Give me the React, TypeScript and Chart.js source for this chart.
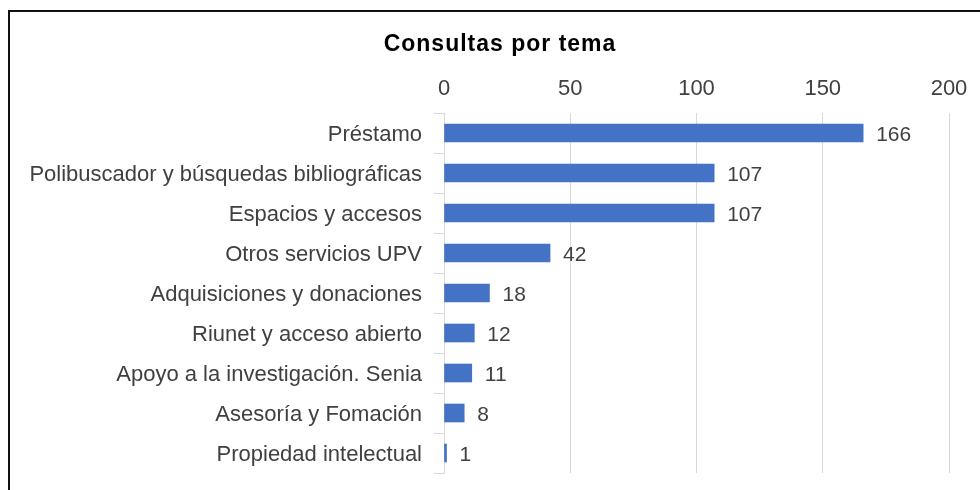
import React, { useEffect, useRef } from "react";
import { Chart, registerables } from "chart.js";

Chart.register(...registerables);

const categories = [
  "Préstamo",
  "Polibuscador y búsquedas bibliográficas",
  "Espacios y accesos",
  "Otros servicios UPV",
  "Adquisiciones y donaciones",
  "Riunet y acceso abierto",
  "Apoyo a la investigación. Senia",
  "Asesoría y Fomación",
  "Propiedad intelectual",
];
const consultas = [166, 107, 107, 42, 18, 12, 11, 8, 1];
const titleText = "Consultas por tema";
const xMin = 0;
const xMax = 200;
const xStep = 50;

const FONT = "'Liberation Sans', Arial, sans-serif";

const valueLabels = {
  id: "valueLabels",
  afterDatasetsDraw(chart: any) {
    const ctx = chart.ctx;
    const meta = chart.getDatasetMeta(0);
    const data = chart.data.datasets[0].data;
    ctx.save();
    ctx.font = `21px ${FONT}`;
    ctx.fillStyle = "#404040";
    ctx.textAlign = "left";
    ctx.textBaseline = "middle";
    meta.data.forEach((bar: any, i: number) => {
      ctx.fillText(String(data[i]), bar.x + 13, bar.y + 2);
    });
    ctx.restore();
  },
};

const chartTitle = {
  id: "chartTitle",
  afterDraw(chart: any) {
    const ctx = chart.ctx;
    ctx.save();
    ctx.font = `bold 23px ${FONT}`;
    try {
      (ctx as any).letterSpacing = "1px";
    } catch (e) {}
    ctx.fillStyle = "#000000";
    ctx.textAlign = "center";
    ctx.textBaseline = "middle";
    ctx.fillText(titleText, 500, 45);
    ctx.restore();
  },
};

export default function App() {
  const ref = useRef<HTMLCanvasElement | null>(null);

  useEffect(() => {
    if (!ref.current) return;
    const topPad = 58;
    const chart = new Chart(ref.current, {
      type: "bar",
      data: {
        labels: categories,
        datasets: [
          {
            data: consultas,
            backgroundColor: "#4472C4",
            barThickness: 18,
          },
        ],
      },
      options: {
        indexAxis: "y",
        animation: false,
        responsive: false,
        maintainAspectRatio: false,
        layout: { padding: { left: 0, right: 31, top: topPad, bottom: 17 } },
        plugins: {
          legend: { display: false },
          tooltip: { enabled: false },
          title: { display: false },
        },
        scales: {
          x: {
            type: "linear",
            position: "top",
            min: xMin,
            max: xMax,
            ticks: {
              stepSize: xStep,
              color: "#404040",
              padding: 11,
              font: { family: FONT, size: 22, lineHeight: 1.2 },
            },
            grid: { color: "#d9d9d9", drawTicks: false, lineWidth: 1 },
            border: { display: false },
            afterFit(scale: any) {
              scale.height = 113 - topPad;
            },
          },
          y: {
            type: "category",
            position: "left",
            ticks: {
              color: "#404040",
              padding: 12,
              labelOffset: 2,
              font: { family: FONT, size: 22 },
            },
            grid: {
              color: "#d9d9d9",
              drawOnChartArea: false,
              drawTicks: true,
              tickLength: 10,
              offset: true,
            },
            border: { display: true, color: "#d9d9d9" },
            afterFit(scale: any) {
              scale.width = 444;
              scale.paddingTop = 0;
              scale.paddingBottom = 0;
            },
          },
        },
      },
      plugins: [valueLabels, chartTitle],
    });
    return () => chart.destroy();
  }, []);

  return (
    <div
      style={{
        position: "fixed",
        left: 0,
        top: 0,
        width: 980,
        height: 490,
        overflow: "hidden",
        background: "#ffffff",
      }}
    >
      <div
        style={{
          position: "absolute",
          left: 8,
          top: 10,
          width: 1000,
          height: 520,
          border: "2px solid #111111",
          boxSizing: "border-box",
        }}
      />
      <canvas
        ref={ref}
        width={980}
        height={490}
        style={{ position: "absolute", left: 0, top: 0, width: 980, height: 490 }}
      />
    </div>
  );
}
